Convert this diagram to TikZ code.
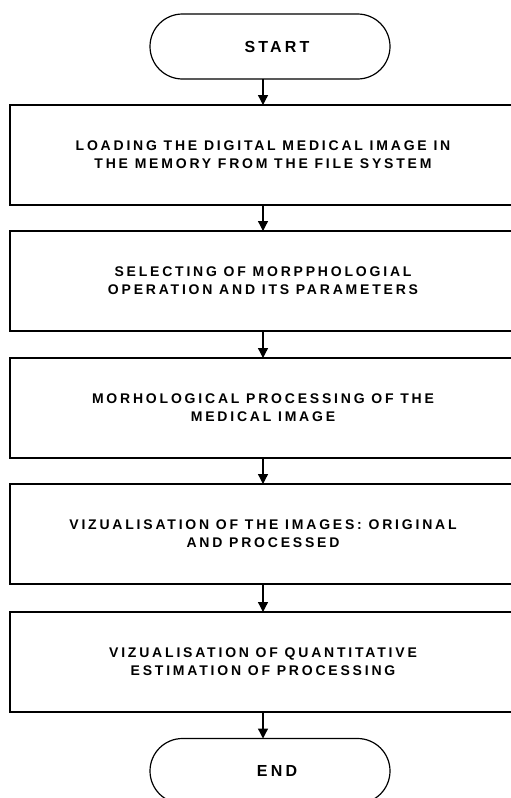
\documentclass[tikz,border=0pt]{standalone}
\usepackage{fontspec}
\setmainfont{Liberation Sans}
\newfontfamily\flowfont[LetterSpace=20]{Liberation Sans}
\usetikzlibrary{arrows.meta,shapes.misc}
\begin{document}
\begin{tikzpicture}[x=1pt,y=-1pt,
  proc/.style={draw, line width=1.5pt, minimum width=506pt, minimum height=100pt, inner sep=0pt, outer sep=0pt, align=center, font=\flowfont\bfseries\fontsize{14}{18}\selectfont},
  term/.style={draw, rounded rectangle, line width=1.2pt, minimum width=240pt, minimum height=65pt, inner sep=0pt, outer sep=0pt, font=\flowfont\bfseries\fontsize{16}{18}\selectfont},
  arr/.style={-{Triangle[length=10pt,width=10pt]}, line width=1.3pt}]
\useasboundingbox (0,0) rectangle (511,798);
\clip (0,0) rectangle (511,798);
\coordinate (ax) at (263,0);
\node[term] (start) at (270,46.5) {\hspace*{14pt}START};
\node[proc] (b1) at (263,155) {LOADING THE DIGITAL MEDICAL IMAGE IN\\THE MEMORY FROM THE FILE SYSTEM};
\node[proc] (b2) at (263,281) {SELECTING OF MORPPHOLOGIAL\\OPERATION AND ITS PARAMETERS};
\node[proc] (b3) at (263,408) {MORHOLOGICAL PROCESSING OF THE\\MEDICAL IMAGE};
\node[proc] (b4) at (263,534) {VIZUALISATION OF THE IMAGES: ORIGINAL\\AND PROCESSED};
\node[proc] (b5) at (263,662) {VIZUALISATION OF QUANTITATIVE\\ESTIMATION OF PROCESSING};
\node[term] (end) at (270,771) {\hspace*{14pt}END};
\draw[arr] (start.south -| ax) -- (b1.north);
\draw[arr] (b1.south) -- (b2.north);
\draw[arr] (b2.south) -- (b3.north);
\draw[arr] (b3.south) -- (b4.north);
\draw[arr] (b4.south) -- (b5.north);
\draw[arr] (b5.south) -- (end.north -| ax);
\end{tikzpicture}
\end{document}
